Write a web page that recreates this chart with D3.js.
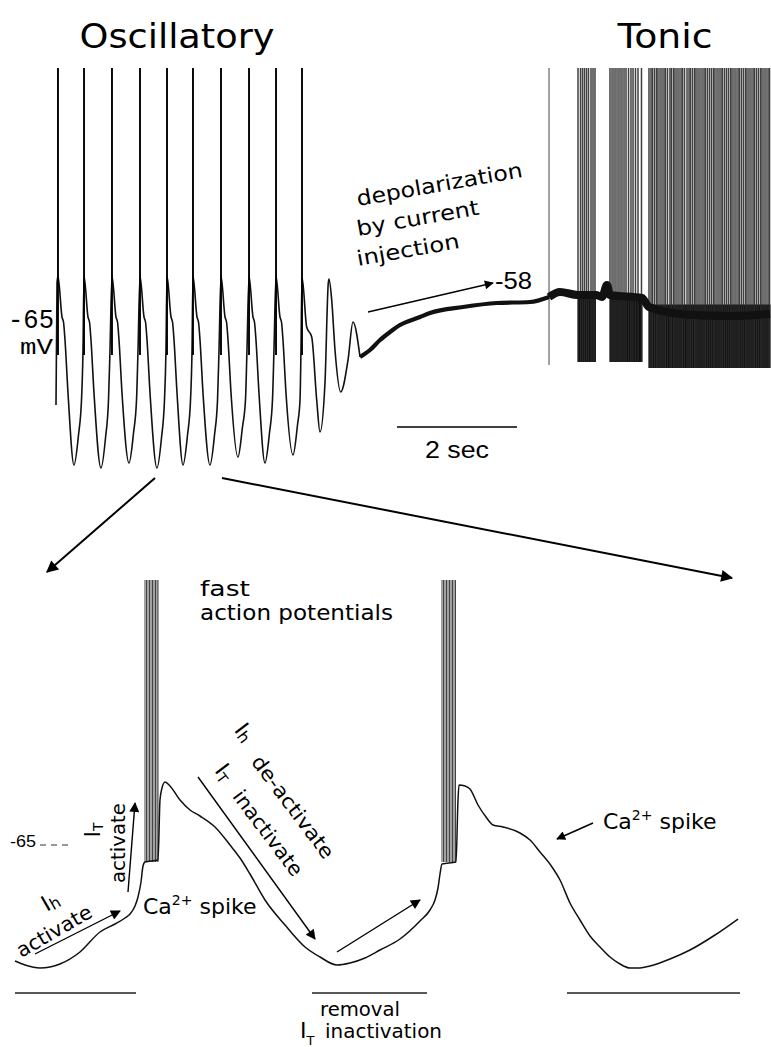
<!DOCTYPE html>
<html><head><meta charset="utf-8">
<script src="https://cdn.jsdelivr.net/npm/d3@7"></script>
<style>body{margin:0;background:#fff}svg{display:block}</style>
</head><body>
<script>
// ---------------- DATA (top panel: time in s, membrane potential in mV) ----------------
const oscTrace = [[0,-81.6],[0.017,-57.2],
 [0.033,-55.8],[0.1,-64],[0.125,-65],[0.15,-68.6],[0.2,-79.2],[0.3,-93.6],[0.375,-87.6],[0.425,-80.6],[0.45,-70.6],
 [0.467,-55.8],[0.533,-64],[0.558,-65],[0.583,-68.6],[0.633,-79.2],[0.75,-94.2],[0.825,-88.2],[0.875,-80.6],[0.9,-70.6],
 [0.933,-55.8],[1.0,-64],[1.025,-65],[1.05,-68.6],[1.1,-79.2],[1.217,-93.2],[1.292,-87.2],[1.342,-80.6],[1.367,-70.6],
 [1.4,-55.8],[1.467,-64],[1.492,-65],[1.517,-68.6],[1.567,-79.2],[1.683,-94.2],[1.758,-88.2],[1.808,-80.6],[1.833,-70.6],
 [1.85,-55.8],[1.917,-64],[1.942,-65],[1.967,-68.6],[2.017,-79.2],[2.117,-93.6],[2.192,-87.6],[2.242,-80.6],[2.267,-70.6],
 [2.283,-55.8],[2.35,-64],[2.375,-65],[2.4,-68.6],[2.45,-79.2],[2.567,-93.6],[2.642,-87.6],[2.692,-80.6],[2.717,-70.6],
 [2.75,-55.8],[2.817,-64],[2.842,-65],[2.867,-68.6],[2.917,-79.2],[3.033,-92],[3.108,-86],[3.158,-80.6],[3.183,-70.6],
 [3.217,-55.8],[3.283,-64],[3.308,-65],[3.333,-68.6],[3.383,-79.2],[3.483,-93.2],[3.558,-87.2],[3.608,-80.6],[3.633,-70.6],
 [3.667,-55.8],[3.733,-64],[3.758,-65],[3.783,-68.6],[3.833,-79.2],[3.95,-91.6],[4.025,-85.6],[4.067,-80.6],[4.083,-70.6],
 [4.1,-56],[4.178,-66],[4.262,-68],[4.345,-80.6],[4.4,-87],[4.483,-77.2],[4.538,-57.2],[4.55,-56.4],
 [4.595,-60.6],[4.65,-70.6],[4.745,-79],[4.867,-72.6],[4.95,-65],[5.067,-72]];
const depolTrace = [[5.067,-72],[5.233,-70.6],[5.4,-68.6],[5.567,-67],[5.733,-65.6],[6.067,-64],[6.233,-63.2],
 [6.783,-62],[7.35,-61.2],[7.9,-61],[8.217,-60]];
const tonicTrace = [[8.217,-60],[8.4,-59],[8.7,-59.6],[9.0,-59.6],[9.1,-60],[9.183,-57.6],[9.233,-59.6],
 [9.767,-60.2],[9.883,-62],[10.5,-63.5],[11.2,-63.8],[11.9,-63.4]];
const oscSpikes = [0.033,0.467,0.933,1.4,1.85,2.283,2.75,3.217,3.667,4.1];
const spikeTopV = -14.2, oscSpikeBottomV = -71.6;
const artifactLine = [8.217];
const tonicBurst1 = [8.7,8.742,8.775,8.808,8.842,8.875,8.917,8.95,8.983];
const tonicBurst2 = [9.233,9.267,9.3,9.333,9.367,9.4,9.433,9.467,9.5,9.542,9.583,9.617,9.658,9.7,9.758];
const tonicBurst3 = [9.883,9.917,9.942,9.975,10.008,10.033,10.067,10.1,10.133,10.158,10.192,10.233,10.258,10.292,
 10.317,10.35,10.383,10.417,10.442,10.475,10.517,10.55,10.575,10.608,10.642,10.667,10.7,10.733,10.767,10.8,10.825,
 10.858,10.892,10.925,10.958,10.983,11.017,11.05,11.083,11.108,11.142,11.175,11.208,11.242,11.267,11.3,11.333,
 11.367,11.392,11.425,11.458,11.492,11.517,11.55,11.583,11.617,11.642,11.675,11.708,11.742,11.767,11.8,11.833,11.867,11.892];
const burstFloorV = [-73,-73,-74.2];
const burstTopV = [-59.5,-59.5,-61.5];
const timeBar = [5.683,7.683], timeBarV = -86;

// ---------------- DATA (bottom panel: time in ms, mV) ----------------
const zoomTrace = [[0,-88.2],[20,-89],[50,-89.6],[90,-88.8],[130,-86.4],[170,-82.4],[200,-80.8],[220,-79.6],
 [230,-78.8],[240,-77.2],[246,-75.4],[252,-72.4],[256,-69.2],[260,-68.4],[286,-68],[290,-56],[294,-53.6],[300,-52.4],
 [310,-53.2],[330,-56],[350,-58],[370,-59.2],[400,-61.4],[430,-65],[450,-67.6],[470,-70.8],[500,-76],[540,-81],
 [580,-85.4],[610,-87.4],[644,-89],[670,-88.6],[700,-87.6],[730,-86],[770,-83.8],[810,-80.2],[830,-78],[840,-76],
 [846,-73.6],[850,-70.8],[854,-68.8],[882,-68.4],[886,-56],[888,-53],[900,-53.2],[910,-53.8],[926,-57],[942,-59.4],
 [956,-61],[976,-61.4],[1010,-62.6],[1030,-64],[1050,-66.4],[1074,-69.4],[1090,-72],[1110,-76.6],[1130,-80],
 [1150,-83.2],[1170,-85.4],[1190,-87.4],[1210,-88.8],[1230,-89.6],[1250,-89.6],[1270,-89.2],[1310,-87.8],[1350,-86],
 [1400,-83],[1446,-79.8]];
const zoomBurstA = [260,263,266,269,272,275,278,281,284,286];
const zoomBurstB = [854,857,860,863,866,869,872,875,878,881];
const zoomSpikeTopV = -12, zoomSpikeBottomV = -68.4;
const phaseBarStart = [0,594,1104], phaseBarEnd = [242,824,1450], phaseBarV = -94.6;
const restDash = [50,106], restV = -65;

// ---------------- SETUP ----------------
const W = 771, H = 1047;
const svg = d3.select('body').append('svg').attr('width', W).attr('height', H)
  .style('font-family', "'DejaVu Sans', sans-serif");
const xTop = d3.scaleLinear().domain([0, 12]).range([56, 776]);
const yTop = d3.scaleLinear().domain([-100, -10]).range([497, 47]);
const xBot = d3.scaleLinear().domain([0, 1500]).range([15, 765]);
const yBot = d3.scaleLinear().domain([-110, -10]).range([1070, 570]);

const defs = svg.append('defs');
function marker(id, w, h) {
  defs.append('marker').attr('id', id).attr('viewBox', '0 0 10 10').attr('refX', 9).attr('refY', 5)
    .attr('markerWidth', w).attr('markerHeight', h).attr('markerUnits', 'userSpaceOnUse').attr('orient', 'auto')
    .append('path').attr('d', 'M0,0 L10,5 L0,10 z').attr('fill', '#000');
}
marker('ahBig', 17, 12); marker('ah', 14, 10); marker('ahSmall', 12, 9);

const lineTop = d3.line().x(d => xTop(d[0])).y(d => yTop(d[1])).curve(d3.curveMonotoneX);
const lineBot = d3.line().x(d => xBot(d[0])).y(d => yBot(d[1])).curve(d3.curveMonotoneX);

// ---------------- TOP PANEL ----------------
const gTop = svg.append('g');
const bursts = [tonicBurst1, tonicBurst2, tonicBurst3];
gTop.selectAll('rect.burst').data(bursts).join('rect').attr('class', 'burst')
  .attr('x', d => xTop(d[0])).attr('width', d => xTop(d[d.length - 1]) - xTop(d[0]) + 1)
  .attr('y', (d, i) => yTop(burstTopV[i])).attr('height', (d, i) => yTop(burstFloorV[i]) - yTop(burstTopV[i]))
  .attr('fill', '#0d0d0d');
bursts.forEach((b, i) => {
  gTop.selectAll(null).data(b).join('line')
    .attr('x1', d => xTop(d)).attr('x2', d => xTop(d))
    .attr('y1', yTop(spikeTopV)).attr('y2', yTop(burstFloorV[i]))
    .attr('stroke', '#2a2a2a').attr('stroke-width', 1.5).attr('stroke-opacity', 0.9);
});
gTop.selectAll(null).data(artifactLine).join('line')
  .attr('x1', d => xTop(d)).attr('x2', d => xTop(d))
  .attr('y1', yTop(spikeTopV)).attr('y2', yTop(-73.6)).attr('stroke', '#444').attr('stroke-width', 1);
gTop.append('path').attr('d', lineTop(tonicTrace)).attr('fill', 'none').attr('stroke', '#111').attr('stroke-width', 8);
gTop.append('path').attr('d', lineTop(depolTrace)).attr('fill', 'none').attr('stroke', '#111').attr('stroke-width', 4.2);
gTop.append('path').attr('d', lineTop(oscTrace)).attr('fill', 'none').attr('stroke', '#111').attr('stroke-width', 1.6);
gTop.selectAll(null).data(oscSpikes).join('line')
  .attr('x1', d => xTop(d)).attr('x2', d => xTop(d))
  .attr('y1', yTop(spikeTopV)).attr('y2', yTop(oscSpikeBottomV)).attr('stroke', '#000').attr('stroke-width', 1.9);
gTop.append('line').attr('x1', xTop(timeBar[0])).attr('x2', xTop(timeBar[1]))
  .attr('y1', yTop(timeBarV)).attr('y2', yTop(timeBarV)).attr('stroke', '#000').attr('stroke-width', 1.5);
gTop.append('text').attr('x', xTop(6.683)).attr('y', yTop(-92.2)).attr('text-anchor', 'middle')
  .style('font-family', "'Liberation Sans', Arial, sans-serif").attr('font-size', 24)
  .attr('textLength', 64).attr('lengthAdjust', 'spacingAndGlyphs').text('2 sec');
gTop.append('text').attr('x', xTop(2.017)).attr('y', yTop(-10.2)).attr('text-anchor', 'middle')
  .attr('font-size', 34).attr('textLength', 195).attr('lengthAdjust', 'spacingAndGlyphs').text('Oscillatory');
gTop.append('text').attr('x', xTop(10.15)).attr('y', yTop(-10.2)).attr('text-anchor', 'middle')
  .attr('font-size', 34).attr('textLength', 95).attr('lengthAdjust', 'spacingAndGlyphs').text('Tonic');
gTop.append('text').attr('x', xTop(-0.033)).attr('y', yTop(-66.2)).attr('text-anchor', 'end')
  .style('font-family', "'Liberation Mono', monospace").attr('font-size', 27)
  .attr('textLength', 46).attr('lengthAdjust', 'spacingAndGlyphs').text('-65');
gTop.append('text').attr('x', xTop(-0.05)).attr('y', yTop(-71.4)).attr('text-anchor', 'end')
  .style('font-family', "'Liberation Mono', monospace").attr('font-size', 22)
  .attr('textLength', 33).attr('lengthAdjust', 'spacingAndGlyphs').text('mV');
const depLines = [['depolarization', -41.8, 168], ['by current', -47.8, 124], ['injection', -53.8, 104]];
depLines.forEach(([t, v, L]) => {
  const x = xTop(5.033), y = yTop(v);
  gTop.append('text').attr('x', x).attr('y', y).attr('transform', `rotate(-10 ${x} ${y})`)
    .attr('font-size', 21).attr('textLength', L).attr('lengthAdjust', 'spacingAndGlyphs').text(t);
});
gTop.append('line').attr('x1', xTop(5.2)).attr('y1', yTop(-63)).attr('x2', xTop(7.283)).attr('y2', yTop(-57.2))
  .attr('stroke', '#000').attr('stroke-width', 1.3).attr('marker-end', 'url(#ahSmall)');
gTop.append('text').attr('x', xTop(7.317)).attr('y', yTop(-58.4))
  .style('font-family', "'Liberation Sans', Arial, sans-serif").attr('font-size', 24)
  .attr('textLength', 37).attr('lengthAdjust', 'spacingAndGlyphs').text('-58');

// ---------------- CONNECTING ARROWS ----------------
svg.append('line').attr('x1', xTop(1.65)).attr('y1', yTop(-96.2)).attr('x2', xBot(64)).attr('y2', yBot(-10.4))
  .attr('stroke', '#000').attr('stroke-width', 2).attr('marker-end', 'url(#ahBig)');
svg.append('line').attr('x1', xTop(2.767)).attr('y1', yTop(-96.2)).attr('x2', xBot(1434)).attr('y2', yBot(-11.6))
  .attr('stroke', '#000').attr('stroke-width', 2).attr('marker-end', 'url(#ahBig)');

// ---------------- BOTTOM PANEL ----------------
const gBot = svg.append('g');
[zoomBurstA, zoomBurstB].forEach(b => {
  gBot.selectAll(null).data(b).join('line')
    .attr('x1', d => xBot(d)).attr('x2', d => xBot(d))
    .attr('y1', yBot(zoomSpikeTopV)).attr('y2', yBot(zoomSpikeBottomV))
    .attr('stroke', '#444').attr('stroke-width', 1);
});
gBot.append('path').attr('d', lineBot(zoomTrace)).attr('fill', 'none').attr('stroke', '#111').attr('stroke-width', 1.5);
gBot.selectAll(null).data(phaseBarStart).join('line')
  .attr('x1', d => xBot(d)).attr('x2', (d, i) => xBot(phaseBarEnd[i]))
  .attr('y1', yBot(phaseBarV)).attr('y2', yBot(phaseBarV)).attr('stroke', '#222').attr('stroke-width', 1.5);
gBot.append('line').attr('x1', xBot(restDash[0])).attr('x2', xBot(restDash[1]))
  .attr('y1', yBot(restV)).attr('y2', yBot(restV)).attr('stroke', '#333').attr('stroke-width', 1.2)
  .attr('stroke-dasharray', '6,5');
gBot.append('text').attr('x', xBot(42)).attr('y', yBot(-65.4)).attr('text-anchor', 'end')
  .style('font-family', "'Liberation Sans', Arial, sans-serif").attr('font-size', 17)
  .attr('textLength', 26).attr('lengthAdjust', 'spacingAndGlyphs').text('-65');

gBot.append('text').attr('x', xBot(370)).attr('y', yBot(-15.2)).attr('font-size', 22)
  .attr('textLength', 50).attr('lengthAdjust', 'spacingAndGlyphs').text('fast');
gBot.append('text').attr('x', xBot(370)).attr('y', yBot(-20)).attr('font-size', 22)
  .attr('textLength', 193).attr('lengthAdjust', 'spacingAndGlyphs').text('action potentials');
function caLabel(t, v) {
  const tx = gBot.append('text').attr('x', xBot(t)).attr('y', yBot(v)).attr('font-size', 22);
  tx.append('tspan').text('Ca');
  tx.append('tspan').attr('font-size', 14).attr('dy', -9).text('2+');
  tx.append('tspan').attr('dy', 9).text(' spike');
}
caLabel(256, -78.8);
caLabel(1176, -61.8);

function rotText(t, v, ang, size, L, parts) {
  const x = xBot(t), y = yBot(v);
  const tx = gBot.append('text').attr('x', x).attr('y', y).attr('text-anchor', 'middle')
    .attr('dominant-baseline', 'central').attr('font-size', size)
    .attr('transform', `rotate(${ang} ${x} ${y})`);
  if (L) tx.attr('textLength', L).attr('lengthAdjust', 'spacingAndGlyphs');
  parts.forEach(p => {
    const s = tx.append('tspan').text(p[0]);
    if (p[1]) s.attr('font-size', p[1]);
    if (p[2]) s.attr('dy', p[2]);
  });
}
rotText(206, -64.6, -90, 20, 80, [['activate']]);
rotText(154, -62, -90, 22, null, [['I'], ['T', 14, 6]]);
rotText(70, -76.2, -30, 22, null, [['I'], ['h', 16, 4]]);
rotText(78, -82.2, -30, 20, 84, [['activate']]);
rotText(460, -42.4, 53, 22, null, [['I'], ['h', 16, 4]]);
rotText(556, -57.4, 53, 20, 123, [['de-activate']]);
rotText(420, -50.4, 53, 22, null, [['I'], ['T', 14, 6]]);
rotText(506, -62.6, 53, 20, 102, [['inactivate']]);

gBot.append('text').attr('x', xBot(610)).attr('y', yBot(-99.2)).attr('font-size', 20)
  .attr('textLength', 80).attr('lengthAdjust', 'spacingAndGlyphs').text('removal');
gBot.append('text').attr('x', xBot(620)).attr('y', yBot(-103.6)).attr('font-size', 20)
  .attr('textLength', 117).attr('lengthAdjust', 'spacingAndGlyphs').text('inactivation');
const itx = gBot.append('text').attr('x', xBot(570)).attr('y', yBot(-103.6)).attr('font-size', 22);
itx.append('tspan').text('I');
itx.append('tspan').attr('font-size', 13).attr('dy', 7).text('T');

const arrows = [[40,-86.8,210,-78.2,'ah'],[226,-74.4,240,-56.6,'ah'],[366,-51.4,600,-83.8,'ah'],
  [644,-86.4,810,-76,'ah'],[1156,-60.6,1084,-63.8,'ahSmall']];
gBot.selectAll(null).data(arrows).join('line')
  .attr('x1', d => xBot(d[0])).attr('y1', d => yBot(d[1])).attr('x2', d => xBot(d[2])).attr('y2', d => yBot(d[3]))
  .attr('stroke', '#000').attr('stroke-width', 1.4).attr('marker-end', d => `url(#${d[4]})`);
</script>
</body></html>
